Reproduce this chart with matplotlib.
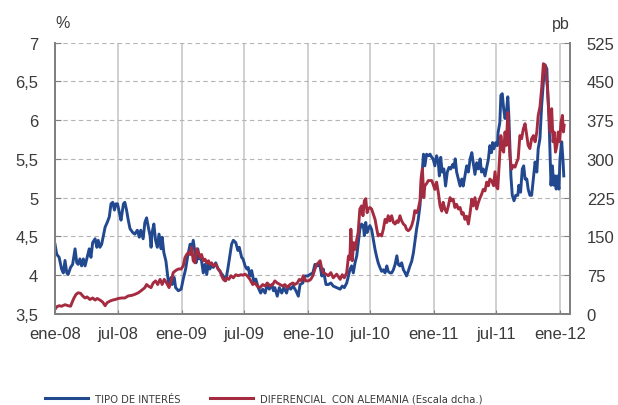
import pandas as pd
import matplotlib
matplotlib.use("Agg")
import matplotlib.pyplot as plt
from matplotlib.lines import Line2D
from matplotlib.font_manager import FontProperties

plt.rcParams['font.family'] = ['Liberation Sans', 'DejaVu Sans']

# Tipo de interés (%), eje izquierdo
tipo_fechas = [
    '2008-01-01', '2008-01-06', '2008-01-13', '2008-01-20', '2008-01-25', '2008-01-30', '2008-02-04', '2008-02-08',
    '2008-02-15', '2008-02-21', '2008-02-28', '2008-03-04', '2008-03-08', '2008-03-13', '2008-03-18', '2008-03-23',
    '2008-03-28', '2008-04-02', '2008-04-09', '2008-04-14', '2008-04-19', '2008-04-26', '2008-05-01', '2008-05-05',
    '2008-05-10', '2008-05-15', '2008-05-20', '2008-05-25', '2008-05-31', '2008-06-06', '2008-06-11', '2008-06-16',
    '2008-06-21', '2008-06-25', '2008-06-30', '2008-07-05', '2008-07-10', '2008-07-17', '2008-07-21', '2008-07-26',
    '2008-07-31', '2008-08-05', '2008-08-13', '2008-08-19', '2008-08-26', '2008-09-01', '2008-09-05', '2008-09-12',
    '2008-09-17', '2008-09-22', '2008-09-27', '2008-10-02', '2008-10-05', '2008-10-08', '2008-10-13', '2008-10-18',
    '2008-10-23', '2008-10-28', '2008-11-03', '2008-11-06', '2008-11-11', '2008-11-17', '2008-11-22', '2008-11-26',
    '2008-12-02', '2008-12-05', '2008-12-11', '2008-12-15', '2008-12-23', '2008-12-31', '2009-01-06', '2009-01-13',
    '2009-01-19', '2009-01-26', '2009-01-30', '2009-02-04', '2009-02-09', '2009-02-12', '2009-02-17', '2009-02-21',
    '2009-02-26', '2009-03-05', '2009-03-10', '2009-03-15', '2009-03-20', '2009-03-24', '2009-03-29', '2009-04-03',
    '2009-04-10', '2009-04-17', '2009-04-25', '2009-05-02', '2009-05-09', '2009-05-15', '2009-05-21', '2009-05-26',
    '2009-05-31', '2009-06-07', '2009-06-13', '2009-06-17', '2009-06-24', '2009-06-28', '2009-07-04', '2009-07-09',
    '2009-07-13', '2009-07-18', '2009-07-23', '2009-07-30', '2009-08-04', '2009-08-11', '2009-08-18', '2009-08-24',
    '2009-08-31', '2009-09-06', '2009-09-12', '2009-09-19', '2009-09-24', '2009-09-28', '2009-10-05', '2009-10-11',
    '2009-10-18', '2009-10-24', '2009-11-01', '2009-11-06', '2009-11-13', '2009-11-20', '2009-11-28', '2009-12-05',
    '2009-12-10', '2009-12-18', '2009-12-24', '2010-01-01', '2010-01-08', '2010-01-16', '2010-01-22', '2010-01-29',
    '2010-02-04', '2010-02-11', '2010-02-15', '2010-02-23', '2010-03-02', '2010-03-09', '2010-03-16', '2010-03-26',
    '2010-04-05', '2010-04-11', '2010-04-17', '2010-04-24', '2010-04-29', '2010-05-03', '2010-05-08', '2010-05-13',
    '2010-05-18', '2010-05-23', '2010-05-27', '2010-06-01', '2010-06-06', '2010-06-11', '2010-06-14', '2010-06-18',
    '2010-06-22', '2010-06-25', '2010-06-30', '2010-07-05', '2010-07-10', '2010-07-15', '2010-07-20', '2010-07-24',
    '2010-07-29', '2010-08-03', '2010-08-08', '2010-08-13', '2010-08-18', '2010-08-22', '2010-08-27', '2010-09-01',
    '2010-09-06', '2010-09-11', '2010-09-16', '2010-09-20', '2010-09-25', '2010-09-30', '2010-10-05', '2010-10-10',
    '2010-10-14', '2010-10-19', '2010-10-24', '2010-10-29', '2010-11-03', '2010-11-07', '2010-11-12', '2010-11-17',
    '2010-11-22', '2010-11-27', '2010-12-02', '2010-12-06', '2010-12-11', '2010-12-16', '2010-12-21', '2010-12-26',
    '2010-12-30', '2011-01-04', '2011-01-09', '2011-01-14', '2011-01-17', '2011-01-21', '2011-01-25', '2011-01-30',
    '2011-02-04', '2011-02-09', '2011-02-14', '2011-02-19', '2011-02-25', '2011-02-28', '2011-03-04', '2011-03-08',
    '2011-03-13', '2011-03-18', '2011-03-23', '2011-03-27', '2011-04-01', '2011-04-06', '2011-04-11', '2011-04-16',
    '2011-04-21', '2011-04-25', '2011-04-30', '2011-05-05', '2011-05-10', '2011-05-15', '2011-05-19', '2011-05-24',
    '2011-05-29', '2011-06-03', '2011-06-08', '2011-06-12', '2011-06-17', '2011-06-20', '2011-06-24', '2011-06-29',
    '2011-07-04', '2011-07-06', '2011-07-11', '2011-07-14', '2011-07-18', '2011-07-22', '2011-07-26', '2011-07-30',
    '2011-08-03', '2011-08-06', '2011-08-09', '2011-08-12', '2011-08-16', '2011-08-21', '2011-08-26', '2011-09-01',
    '2011-09-04', '2011-09-09', '2011-09-14', '2011-09-18', '2011-09-22', '2011-09-27', '2011-10-01', '2011-10-06',
    '2011-10-11', '2011-10-16', '2011-10-21', '2011-10-26', '2011-10-30', '2011-11-04', '2011-11-09', '2011-11-14',
    '2011-11-19', '2011-11-24', '2011-11-26', '2011-11-30', '2011-12-03', '2011-12-06', '2011-12-10', '2011-12-14',
    '2011-12-18', '2011-12-21', '2011-12-25', '2011-12-29', '2012-01-01', '2012-01-06', '2012-01-10', '2012-01-12',
]
tipo_valores = [
    4.40, 4.27, 4.23, 4.08, 4.03, 4.19, 4.03, 4.01, 4.10, 4.14, 4.34, 4.16, 4.14, 4.21, 4.12, 4.21,
    4.12, 4.21, 4.34, 4.23, 4.42, 4.47, 4.36, 4.45, 4.36, 4.40, 4.51, 4.62, 4.68, 4.75, 4.92, 4.94,
    4.84, 4.92, 4.92, 4.81, 4.71, 4.92, 4.94, 4.84, 4.71, 4.60, 4.55, 4.53, 4.58, 4.49, 4.58, 4.47,
    4.68, 4.74, 4.62, 4.51, 4.36, 4.55, 4.66, 4.45, 4.36, 4.53, 4.34, 4.49, 4.29, 4.18, 3.99, 3.86,
    3.97, 3.88, 3.97, 3.84, 3.80, 3.82, 3.95, 4.08, 4.25, 4.40, 4.34, 4.45, 4.29, 4.16, 4.34, 4.21,
    4.25, 4.03, 4.14, 4.01, 4.16, 4.08, 4.14, 4.10, 4.16, 4.08, 4.03, 3.99, 3.93, 4.08, 4.25, 4.40,
    4.45, 4.42, 4.32, 4.36, 4.23, 4.21, 4.12, 4.08, 4.10, 3.99, 4.06, 3.90, 3.95, 3.84, 3.77, 3.82,
    3.77, 3.88, 3.82, 3.88, 3.80, 3.84, 3.73, 3.84, 3.77, 3.84, 3.77, 3.86, 3.82, 3.86, 3.80, 3.73,
    3.88, 3.90, 3.99, 3.99, 4.01, 4.03, 4.14, 4.12, 4.16, 3.99, 4.08, 3.88, 3.88, 3.90, 3.86, 3.84,
    3.82, 3.86, 3.84, 3.90, 3.99, 4.07, 4.12, 4.03, 4.16, 4.25, 4.40, 4.59, 4.66, 4.64, 4.51, 4.68,
    4.55, 4.59, 4.64, 4.59, 4.46, 4.33, 4.23, 4.16, 4.10, 4.05, 4.07, 4.03, 4.12, 4.05, 4.03, 4.03,
    4.07, 4.14, 4.25, 4.14, 4.12, 4.16, 4.07, 4.03, 3.99, 4.05, 4.12, 4.18, 4.29, 4.42, 4.59, 4.72,
    4.90, 5.24, 5.56, 5.41, 5.56, 5.54, 5.56, 5.52, 5.50, 5.41, 5.54, 5.45, 5.28, 5.52, 5.33, 5.37,
    5.15, 5.33, 5.39, 5.37, 5.43, 5.39, 5.50, 5.33, 5.24, 5.15, 5.24, 5.15, 5.28, 5.41, 5.33, 5.50,
    5.58, 5.45, 5.30, 5.45, 5.37, 5.50, 5.33, 5.37, 5.28, 5.39, 5.50, 5.67, 5.58, 5.71, 5.63, 5.71,
    5.67, 5.84, 5.97, 6.32, 6.34, 6.15, 6.02, 6.10, 6.30, 6.06, 5.67, 5.28, 5.03, 4.96, 5.03, 5.03,
    5.16, 5.07, 5.37, 5.41, 5.24, 5.24, 5.11, 5.03, 5.03, 5.24, 5.46, 5.33, 5.63, 5.76, 6.19, 6.49,
    6.71, 6.66, 6.41, 6.06, 5.63, 5.16, 5.41, 5.16, 5.28, 5.11, 5.28, 5.11, 5.50, 5.72, 5.46, 5.28,
]

# Diferencial con Alemania (pb), eje derecho
dif_fechas = [
    '2008-01-01', '2008-01-06', '2008-01-13', '2008-01-20', '2008-01-30', '2008-02-08', '2008-02-15', '2008-02-21',
    '2008-02-25', '2008-03-02', '2008-03-08', '2008-03-15', '2008-03-21', '2008-03-28', '2008-04-03', '2008-04-11',
    '2008-04-19', '2008-04-26', '2008-05-02', '2008-05-10', '2008-05-18', '2008-05-25', '2008-05-31', '2008-06-08',
    '2008-06-16', '2008-06-23', '2008-07-02', '2008-07-12', '2008-07-21', '2008-07-31', '2008-08-10', '2008-08-19',
    '2008-08-29', '2008-09-08', '2008-09-17', '2008-09-22', '2008-09-27', '2008-10-05', '2008-10-11', '2008-10-18',
    '2008-10-24', '2008-10-31', '2008-11-06', '2008-11-12', '2008-11-19', '2008-11-26', '2008-12-02', '2008-12-08',
    '2008-12-15', '2008-12-23', '2008-12-31', '2009-01-06', '2009-01-11', '2009-01-16', '2009-01-21', '2009-01-26',
    '2009-01-30', '2009-02-04', '2009-02-09', '2009-02-14', '2009-02-19', '2009-02-24', '2009-02-28', '2009-03-05',
    '2009-03-10', '2009-03-15', '2009-03-20', '2009-03-24', '2009-03-29', '2009-04-03', '2009-04-10', '2009-04-17',
    '2009-04-22', '2009-04-27', '2009-05-02', '2009-05-07', '2009-05-12', '2009-05-18', '2009-05-24', '2009-05-31',
    '2009-06-07', '2009-06-14', '2009-06-22', '2009-06-27', '2009-07-04', '2009-07-10', '2009-07-18', '2009-07-26',
    '2009-08-02', '2009-08-08', '2009-08-16', '2009-08-24', '2009-08-31', '2009-09-06', '2009-09-14', '2009-09-22',
    '2009-09-28', '2009-10-05', '2009-10-13', '2009-10-21', '2009-10-27', '2009-11-03', '2009-11-11', '2009-11-19',
    '2009-11-25', '2009-12-02', '2009-12-08', '2009-12-15', '2009-12-19', '2009-12-27', '2010-01-03', '2010-01-10',
    '2010-01-16', '2010-01-22', '2010-01-27', '2010-02-01', '2010-02-06', '2010-02-11', '2010-02-15', '2010-02-23',
    '2010-03-02', '2010-03-09', '2010-03-16', '2010-03-26', '2010-04-05', '2010-04-11', '2010-04-17', '2010-04-24',
    '2010-04-29', '2010-05-03', '2010-05-06', '2010-05-10', '2010-05-14', '2010-05-18', '2010-05-23', '2010-05-27',
    '2010-06-01', '2010-06-06', '2010-06-10', '2010-06-14', '2010-06-18', '2010-06-22', '2010-06-25', '2010-06-30',
    '2010-07-05', '2010-07-10', '2010-07-15', '2010-07-20', '2010-07-24', '2010-07-29', '2010-08-03', '2010-08-08',
    '2010-08-13', '2010-08-18', '2010-08-22', '2010-08-27', '2010-09-01', '2010-09-06', '2010-09-11', '2010-09-16',
    '2010-09-20', '2010-09-25', '2010-09-30', '2010-10-05', '2010-10-10', '2010-10-14', '2010-10-19', '2010-10-24',
    '2010-10-29', '2010-11-03', '2010-11-07', '2010-11-12', '2010-11-17', '2010-11-22', '2010-11-25', '2010-11-29',
    '2010-12-03', '2010-12-06', '2010-12-11', '2010-12-16', '2010-12-21', '2010-12-26', '2010-12-30', '2011-01-04',
    '2011-01-09', '2011-01-14', '2011-01-19', '2011-01-24', '2011-01-28', '2011-02-02', '2011-02-07', '2011-02-12',
    '2011-02-17', '2011-02-22', '2011-02-26', '2011-03-03', '2011-03-08', '2011-03-13', '2011-03-18', '2011-03-23',
    '2011-03-27', '2011-04-01', '2011-04-06', '2011-04-11', '2011-04-16', '2011-04-21', '2011-04-25', '2011-04-30',
    '2011-05-05', '2011-05-10', '2011-05-15', '2011-05-19', '2011-05-24', '2011-05-29', '2011-06-03', '2011-06-08',
    '2011-06-12', '2011-06-17', '2011-06-23', '2011-06-27', '2011-07-02', '2011-07-05', '2011-07-09', '2011-07-11',
    '2011-07-14', '2011-07-18', '2011-07-22', '2011-07-26', '2011-07-30', '2011-08-03', '2011-08-06', '2011-08-09',
    '2011-08-14', '2011-08-19', '2011-08-24', '2011-08-29', '2011-09-02', '2011-09-07', '2011-09-12', '2011-09-17',
    '2011-09-22', '2011-09-27', '2011-10-01', '2011-10-06', '2011-10-11', '2011-10-16', '2011-10-21', '2011-10-26',
    '2011-10-30', '2011-11-04', '2011-11-09', '2011-11-14', '2011-11-19', '2011-11-22', '2011-11-26', '2011-11-30',
    '2011-12-04', '2011-12-08', '2011-12-12', '2011-12-15', '2011-12-19', '2011-12-23', '2011-12-27', '2011-12-31',
    '2012-01-04', '2012-01-08', '2012-01-11', '2012-01-13',
]
dif_valores = [
    9, 14, 16, 15, 18, 16, 15, 25, 31, 38, 41, 40, 35, 31, 33, 28,
    31, 27, 30, 27, 23, 16, 22, 25, 27, 28, 30, 31, 31, 35, 36, 38,
    41, 46, 51, 57, 54, 51, 60, 64, 57, 67, 57, 67, 60, 51, 64, 80,
    84, 87, 87, 93, 109, 115, 119, 115, 129, 103, 99, 126, 119, 109, 115, 103,
    106, 99, 103, 96, 99, 93, 96, 87, 84, 74, 67, 64, 70, 67, 74, 70,
    76, 74, 76, 75, 77, 74, 67, 57, 60, 54, 51, 57, 54, 60, 54, 57,
    64, 60, 57, 54, 57, 51, 57, 60, 57, 60, 67, 64, 74, 64, 64, 67,
    74, 87, 96, 99, 103, 87, 80, 77, 74, 80, 70, 77, 67, 76, 70, 80,
    112, 106, 164, 103, 138, 125, 144, 157, 203, 209, 190, 219, 223, 196, 203, 206,
    203, 193, 183, 164, 151, 154, 151, 164, 183, 177, 190, 180, 190, 177, 174, 180,
    177, 190, 180, 174, 171, 164, 161, 164, 171, 183, 200, 196, 203, 219, 261, 281,
    225, 248, 252, 258, 258, 258, 251, 241, 255, 235, 209, 199, 216, 203, 196, 209,
    225, 219, 222, 206, 212, 203, 206, 193, 196, 183, 189, 174, 196, 222, 209, 225,
    203, 216, 225, 231, 241, 238, 255, 248, 261, 258, 248, 275, 245, 242, 287, 313,
    345, 320, 313, 352, 326, 390, 352, 306, 280, 287, 284, 294, 300, 345, 339, 358,
    368, 345, 326, 320, 339, 345, 333, 352, 384, 400, 436, 484, 481, 461, 436, 384,
    352, 397, 333, 352, 313, 326, 352, 333, 371, 384, 352, 365,
]

# Ejes
ticks_x = ['2008-01-01', '2008-07-01', '2009-01-01', '2009-07-01', '2010-01-01',
           '2010-07-01', '2011-01-01', '2011-07-01', '2012-01-01']
etiquetas_x = ['ene-08', 'jul-08', 'ene-09', 'jul-09', 'ene-10',
               'jul-10', 'ene-11', 'jul-11', 'ene-12']
ticks_izq = [3.5, 4, 4.5, 5, 5.5, 6, 6.5, 7]
etiquetas_izq = ['3,5', '4', '4,5', '5', '5,5', '6', '6,5', '7']
ticks_der = [0, 75, 150, 225, 300, 375, 450, 525]

azul = '#22498f'
rojo = '#a52c40'
gris_txt = '#3a3a3a'
gris_eje = '#808080'

fig = plt.figure(figsize=(6.18, 4.06), dpi=100)
ax = fig.add_axes([55 / 618, 1 - 315 / 406, 515 / 618, 271.5 / 406])
ax2 = ax.twinx()

ax.plot(pd.to_datetime(tipo_fechas), tipo_valores, color=azul, lw=2.1, solid_joinstyle='round')
ax2.plot(pd.to_datetime(dif_fechas), dif_valores, color=rojo, lw=2.1, solid_joinstyle='round')

ax.set_xlim(pd.Timestamp('2008-01-01'), pd.Timestamp('2012-01-30'))
ax.set_ylim(3.5, 7)
ax2.set_ylim(0, 525)

ax.set_xticks(pd.to_datetime(ticks_x))
ax.set_xticklabels(etiquetas_x)
ax.set_yticks(ticks_izq)
ax.set_yticklabels(etiquetas_izq)
ax2.set_yticks(ticks_der)

ax.xaxis.grid(True, color='#c4c4c4', lw=1.1, ls='-')
ax.yaxis.grid(True, color='#b4b4b4', lw=0.8, ls=(0, (4, 3)))
ax.set_axisbelow(True)

for a in (ax, ax2):
    a.spines['top'].set_visible(False)
    for s in ('left', 'right', 'bottom'):
        a.spines[s].set_color(gris_eje)
        a.spines[s].set_linewidth(1.3)

ax.tick_params(axis='x', direction='in', length=3, color=gris_eje, labelsize=12,
               labelcolor=gris_txt, pad=9)
ax.tick_params(axis='y', direction='in', length=4, color=gris_eje, labelsize=12,
               labelcolor=gris_txt, pad=12)
ax2.tick_params(axis='y', direction='in', length=4, color=gris_eje, labelsize=12,
                labelcolor=gris_txt, pad=12)

fig.text(55 / 618, 1 - 24 / 406, '%', fontsize=11.5, color=gris_txt, ha='left', va='center')
fig.text(570 / 618, 1 - 24 / 406, 'pb', fontsize=11.5, color=gris_txt, ha='right', va='center')

# Leyenda (letra estrecha)
fuente_ley = FontProperties(family='DejaVu Sans', stretch='condensed', size=8)
ley1 = fig.legend([Line2D([], [], color=azul, lw=2.2)], ['TIPO DE INTERÉS'],
                  loc='center left', bbox_to_anchor=(45 / 618, 1 - 400 / 406),
                  frameon=False, prop=fuente_ley, handlelength=3.9, handletextpad=0.6,
                  borderpad=0, borderaxespad=0, labelcolor=gris_txt)
ley2 = fig.legend([Line2D([], [], color=rojo, lw=2.2)], ['DIFERENCIAL  CON ALEMANIA (Escala dcha.)'],
                  loc='center left', bbox_to_anchor=(210 / 618, 1 - 400 / 406),
                  frameon=False, prop=fuente_ley, handlelength=3.9, handletextpad=0.6,
                  borderpad=0, borderaxespad=0, labelcolor=gris_txt)

fig.savefig('out.png', dpi=100)
